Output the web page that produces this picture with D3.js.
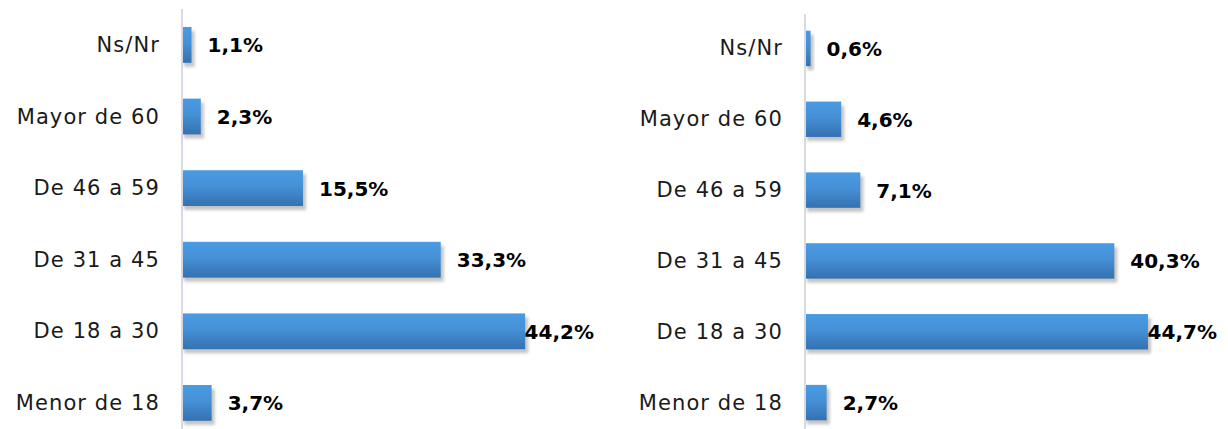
<!DOCTYPE html>
<html><head><meta charset="utf-8">
<script src="https://cdn.jsdelivr.net/npm/d3@7/dist/d3.min.js"></script>
<style>body{margin:0;background:#fff}svg{display:block}</style>
</head><body>
<svg id="c" width="1228" height="429"></svg>
<script>
const categories = ["Ns/Nr","Mayor de 60","De 46 a 59","De 31 a 45","De 18 a 30","Menor de 18"];
const leftValues = [1.1, 2.3, 15.5, 33.3, 44.2, 3.7];
const rightValues = [0.6, 4.6, 7.1, 40.3, 44.7, 2.7];

const svg = d3.select("#c");
const defs = svg.append("defs");
const grad = defs.append("linearGradient").attr("id","bg").attr("x1",0).attr("y1",0).attr("x2",0).attr("y2",1);
grad.append("stop").attr("offset","0%").attr("stop-color","#4a9be3");
grad.append("stop").attr("offset","45%").attr("stop-color","#4590d6");
grad.append("stop").attr("offset","100%").attr("stop-color","#3571b0");
const f = defs.append("filter").attr("id","sh").attr("x","-10%").attr("y","-30%").attr("width","130%").attr("height","180%");
f.append("feGaussianBlur").attr("stdDeviation",1.6);

function panel(values, x0, x1, y0, y1, limit, axisTop) {
  const x = d3.scaleLinear().domain([0,50]).range([x0, x1]);
  const y = d3.scaleBand().domain(categories).range([y0, y1]).paddingInner(0.5).paddingOuter(0.25);
  const g = svg.append("g");
  // axis line
  g.append("line").attr("x1",x(0)-1).attr("x2",x(0)-1).attr("y1",axisTop).attr("y2",429)
    .attr("stroke","#d6dbe4").attr("stroke-width",2);
  // shadows
  g.selectAll(".s").data(values).join("rect")
    .attr("x", x(0)+1).attr("y", (d,i)=>y(categories[i])+4)
    .attr("width", d=>x(d)-x(0)+2).attr("height", y.bandwidth())
    .attr("fill","#b0b0b0").attr("opacity",0.75).attr("filter","url(#sh)");
  g.selectAll(".b").data(values).join("rect")
    .attr("x", x(0)).attr("y", (d,i)=>y(categories[i]))
    .attr("width", d=>x(d)-x(0)).attr("height", y.bandwidth())
    .attr("fill","url(#bg)");
  // category labels
  g.selectAll(".c").data(categories).join("text")
    .attr("x", x(0)-23).attr("y", d=>y(d)+y.bandwidth()/2+1)
    .attr("text-anchor","end").attr("dominant-baseline","middle")
    .attr("font-family","DejaVu Sans").attr("font-size",21).attr("letter-spacing",1.1)
    .attr("fill","#1a1a1a").text(d=>d);
  // value labels
  g.selectAll(".v").data(values).join("text")
    .attr("y", (d,i)=>y(categories[i])+y.bandwidth()/2+2)
    .attr("dominant-baseline","middle")
    .attr("font-family","DejaVu Sans").attr("font-weight","bold").attr("font-size",20)
    .attr("fill","#000").text(d=>d.toFixed(1).replace(".",",")+"%")
    .each(function(d){
      const w = this.getComputedTextLength();
      d3.select(this).attr("x", Math.min(x(d)+16, limit - w));
    });
}
panel(leftValues, 183, 570, 9.1, 438.7, 594, 9);
panel(rightValues, 806, 1188.5, 13, 438, 1217, 14);
</script>
</body></html>
